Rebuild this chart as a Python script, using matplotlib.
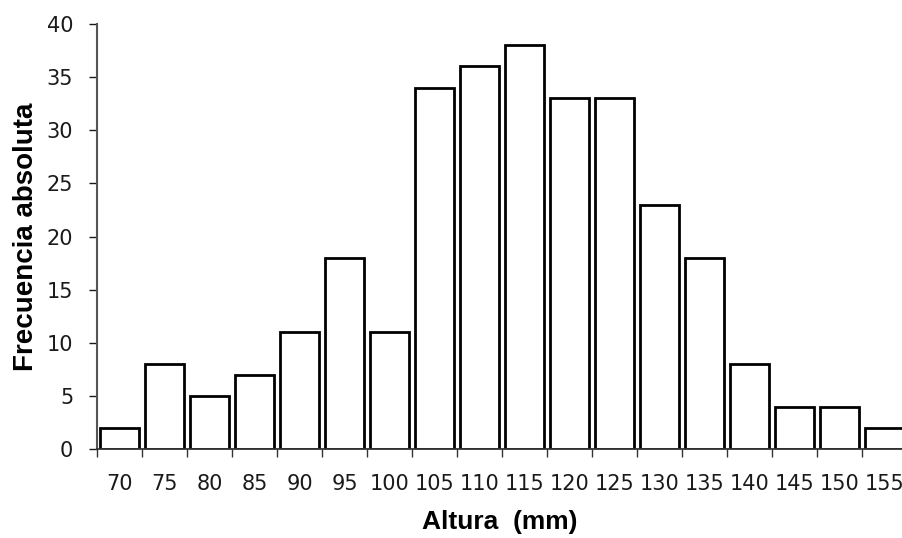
import numpy as np
import matplotlib
matplotlib.use("Agg")
from matplotlib import pyplot as plt

# datos
alturas = [70, 75, 80, 85, 90, 95, 100, 105, 110, 115, 120, 125, 130, 135, 140, 145, 150, 155]
frecuencias = [2, 8, 5, 7, 11, 18, 11, 34, 36, 38, 33, 33, 23, 18, 8, 4, 4, 2]

plt.rcParams['font.family'] = ['DejaVu Sans']

fig = plt.figure(figsize=(9.03, 5.38), dpi=100)
ax = fig.add_axes([0.1074, 0.1654, 0.8970, 0.7900])

x = np.arange(len(alturas))
ax.bar(x, frecuencias, width=0.87, color='white', edgecolor='black', linewidth=2.0)

ax.set_xlim(-0.5, len(alturas) - 0.5)
ax.set_ylim(0, 40)
ax.set_yticks(range(0, 41, 5))
ax.set_xticks(x)
ax.set_xticklabels([str(a) for a in alturas])
ax.set_xticks(np.arange(-0.5, len(alturas)), minor=True)
ax.tick_params(axis='x', which='major', length=0, pad=18, labelsize=15, colors='#1a1a1a')
ax.tick_params(axis='x', which='minor', length=6, width=1, direction='out', color='#333333')
ax.tick_params(axis='y', length=6, width=1, direction='out', labelsize=15, pad=11,
               colors='#1a1a1a')

for s in ['top', 'right']:
    ax.spines[s].set_visible(False)
ax.spines['left'].set_color('#555555')
ax.spines['bottom'].set_color('#333333')
ax.spines['left'].set_linewidth(1.5)
ax.spines['bottom'].set_linewidth(1.3)

ax.set_xlabel('Altura  (mm)', fontsize=19, fontweight='bold', family='Liberation Sans',
              va='center')
ax.set_ylabel('Frecuencia absoluta', fontsize=20, fontweight='bold', family='Liberation Sans',
              va='center')
ax.xaxis.set_label_coords(0.497, -0.172)
ax.yaxis.set_label_coords(-0.088, 0.5)

plt.savefig('out.png', dpi=100)
